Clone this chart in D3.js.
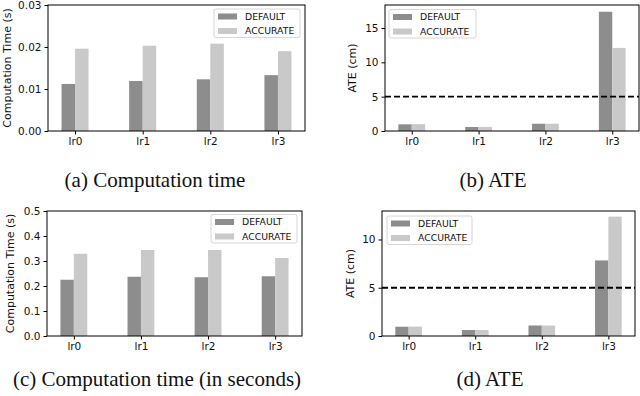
<!DOCTYPE html>
<html>
<head>
<meta charset="utf-8">
<script src="https://cdn.jsdelivr.net/npm/d3@7"></script>
<style>
  body { margin: 0; background: #fff; }
  svg { display: block; }
  .tick text { font-family: "DejaVu Sans", sans-serif; }
</style>
</head>
<body>
<div id="chart"></div>
<script>
// categories and series
var categories = ["lr0", "lr1", "lr2", "lr3"];
var seriesNames = ["DEFAULT", "ACCURATE"];

// (a) computation time
var timeDefaultA = [0.0112, 0.0119, 0.0123, 0.0133];
var timeAccurateA = [0.0196, 0.0203, 0.0208, 0.0190];
// (b) ATE
var ateDefaultB = [0.97, 0.58, 1.06, 17.37];
var ateAccurateB = [1.0, 0.60, 1.06, 12.1];
// (c) computation time
var timeDefaultC = [0.225, 0.237, 0.235, 0.239];
var timeAccurateC = [0.329, 0.344, 0.344, 0.312];
// (d) ATE
var ateDefaultD = [0.96, 0.62, 1.09, 7.83];
var ateAccurateD = [0.98, 0.62, 1.09, 12.37];

var ticksTimeA = [0, 0.01, 0.02, 0.03];
var ticksAteB = [0, 5, 10, 15];
var ticksTimeC = [0, 0.1, 0.2, 0.3, 0.4, 0.5];
var ticksAteD = [0, 5, 10];
var threshold = 5;

var colors = ["#8d8d8d", "#c9c9c9"];

var svg = d3.select("#chart").append("svg")
  .attr("width", 640)
  .attr("height", 396);

function drawPanel(p) {
  var x = d3.scaleLinear().domain([-0.4, 3.4]).range([p.left, p.right]);
  var y = d3.scaleLinear().domain(p.yDomain).range([p.bottom, p.top]);
  var g = svg.append("g");
  var bw = 0.2;

  // bars
  [p.def, p.acc].forEach(function(vals, s) {
    g.selectAll(null)
      .data(vals)
      .enter()
      .append("rect")
      .attr("x", (d, i) => x(i - bw + s * bw))
      .attr("width", x(bw) - x(0))
      .attr("y", d => y(d))
      .attr("height", d => y(0) - y(d))
      .attr("fill", colors[s]);
  });

  // threshold line
  if (p.dashed) {
    g.append("line")
      .attr("x1", p.left).attr("x2", p.right)
      .attr("y1", y(threshold)).attr("y2", y(threshold))
      .attr("stroke", "#000")
      .attr("stroke-width", 1.8)
      .attr("stroke-dasharray", "6,3");
  }

  // axes
  var leftAxis = d3.axisLeft(y).tickValues(p.ticks).tickFormat(d3.format(p.fmt))
    .tickSizeInner(3.5).tickSizeOuter(0).tickPadding(3);
  var bottomAxis = d3.axisBottom(x).tickValues([0, 1, 2, 3])
    .tickFormat(i => categories[i]).tickSizeInner(3.5).tickSizeOuter(0).tickPadding(3);

  var ya = g.append("g").attr("transform", `translate(${p.left},0)`).call(leftAxis);
  var xa = g.append("g").attr("transform", `translate(0,${p.bottom})`).call(bottomAxis);
  [ya, xa].forEach(function(a) {
    a.select(".domain").remove();
    a.selectAll("line").attr("stroke", "#000");
    a.selectAll("text").attr("font-size", 10.5).attr("fill", "#111");
  });

  // frame
  g.append("rect")
    .attr("x", p.left).attr("y", p.top)
    .attr("width", p.right - p.left).attr("height", p.bottom - p.top)
    .attr("fill", "none").attr("stroke", "#000").attr("stroke-width", 1);

  // y label
  g.append("text")
    .attr("transform", `translate(${p.ylabelX},${(p.top + p.bottom) / 2}) rotate(-90)`)
    .attr("text-anchor", "middle")
    .attr("dy", "0.35em")
    .attr("font-family", "DejaVu Sans, sans-serif")
    .attr("font-size", 11)
    .attr("fill", "#111")
    .text(p.ylabel);

  // legend
  var lg = g.append("g").attr("transform", `translate(${p.legX},${p.legY})`);
  lg.append("rect")
    .attr("width", p.legW).attr("height", 28.5)
    .attr("rx", 2)
    .attr("fill", "#fff").attr("fill-opacity", 0.85)
    .attr("stroke", "#d6d6d6");
  seriesNames.forEach(function(name, i) {
    lg.append("rect")
      .attr("x", 4).attr("y", 4.5 + i * 14.5)
      .attr("width", 19).attr("height", 6)
      .attr("fill", colors[i]);
    lg.append("text")
      .attr("x", 31).attr("y", 7.5 + i * 14.5)
      .attr("dy", "0.35em")
      .attr("font-family", "DejaVu Sans, sans-serif")
      .attr("font-size", 9.3)
      .attr("fill", "#111")
      .text(name);
  });

  // caption
  svg.append("text")
    .attr("x", p.capX).attr("y", p.capY)
    .attr("text-anchor", "middle")
    .attr("font-family", "Liberation Serif, Times New Roman, serif")
    .attr("font-size", 21)
    .attr("fill", "#111")
    .text(p.caption);
}

drawPanel({
  left: 48, right: 305, top: 5, bottom: 131,
  yDomain: [0, 0.03], ticks: ticksTimeA, fmt: ".2f",
  def: timeDefaultA, acc: timeAccurateA,
  ylabel: "Computation Time (s)", ylabelX: 7.5,
  legX: 214, legY: 9, legW: 86,
  caption: "(a) Computation time", capX: 155, capY: 187
});

drawPanel({
  left: 385, right: 639, top: 5, bottom: 131,
  yDomain: [0, 18.35], ticks: ticksAteB, fmt: "d",
  def: ateDefaultB, acc: ateAccurateB, dashed: true,
  ylabel: "ATE (cm)", ylabelX: 352,
  legX: 389, legY: 9.5, legW: 87,
  caption: "(b) ATE", capX: 493, capY: 187
});

drawPanel({
  left: 47, right: 302, top: 211, bottom: 336,
  yDomain: [0, 0.5], ticks: ticksTimeC, fmt: ".1f",
  def: timeDefaultC, acc: timeAccurateC,
  ylabel: "Computation Time (s)", ylabelX: 10,
  legX: 211, legY: 214.5, legW: 86,
  caption: "(c) Computation time (in seconds)", capX: 157, capY: 386
});

drawPanel({
  left: 382, right: 635, top: 211, bottom: 336,
  yDomain: [0, 12.95], ticks: ticksAteD, fmt: "d",
  def: ateDefaultD, acc: ateAccurateD, dashed: true,
  ylabel: "ATE (cm)", ylabelX: 350,
  legX: 387, legY: 216, legW: 85,
  caption: "(d) ATE", capX: 490, capY: 386
});
</script>
</body>
</html>
